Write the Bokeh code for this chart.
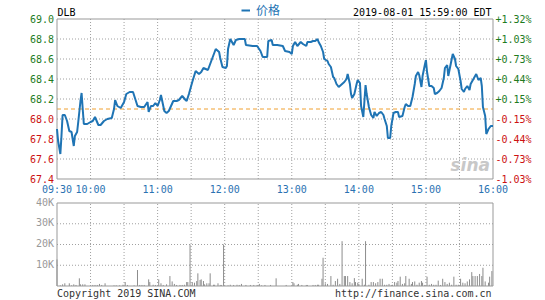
from bokeh.plotting import figure
from bokeh.models import ColumnDataSource, Range1d, Legend, LegendItem
from bokeh.core.properties import value
from bokeh.layouts import column
from bokeh.embed import file_html
from bokeh.resources import INLINE

# ---------------- data ----------------
symbol = "DLB"
timestamp = "2019-08-01 15:59:00 EDT"
series_name = "价格"
prev_close = 68.1
copyright_text = "Copyright 2019 SINA.COM"
url_text = "http://finance.sina.com.cn"
watermark = "sina"

# minutes after 09:30
price_minutes = [0, 1, 3, 4, 5, 7, 9, 11, 13, 15, 16, 18, 19, 21, 22, 23, 24, 27, 30, 32,
                 34, 37, 39, 42, 45, 49, 51, 52, 54, 57, 60, 62, 65, 68, 70, 72, 75, 78, 81, 82,
                 84, 86, 88, 90, 92, 93, 96, 98, 100, 102, 104, 107, 109, 112, 115, 116, 118, 121, 124, 127,
                 129, 131, 135, 138, 140, 142, 145, 146, 148, 151, 152, 153, 155, 158, 160, 163, 168, 169, 175, 179,
                 182, 184, 188, 189, 192, 193, 197, 202, 204, 208, 210, 211, 213, 215, 218, 220, 223, 224, 227, 229,
                 231, 233, 234, 236, 238, 239, 242, 243, 245, 247, 248, 250, 252, 254, 257, 259, 260, 262, 263, 264,
                 266, 268, 269, 271, 272, 274, 276, 277, 279, 281, 283, 284, 286, 288, 290, 292, 293, 295, 296, 298,
                 299, 301, 303, 305, 306, 309, 311, 312, 314, 316, 318, 320, 321, 323, 324, 326, 327, 329, 330, 331,
                 333, 335, 337, 338, 340, 342, 344, 346, 347, 349, 350, 352, 354, 356, 357, 359, 361, 362, 364, 365,
                 367, 369, 370, 372, 374, 375, 377, 379, 380, 381, 383, 384, 386, 388, 390]
price_values = [67.90, 67.78, 67.65, 67.83, 68.04, 68.04, 67.98, 67.88, 67.87, 67.73, 67.83, 67.87, 67.97, 68.18, 68.26, 68.10, 67.95, 67.95, 67.97, 67.98,
                68.02, 67.94, 67.94, 67.98, 68.00, 68.01, 68.10, 68.19, 68.13, 68.11, 68.17, 68.25, 68.27, 68.27, 68.20, 68.13, 68.12, 68.12, 68.17, 68.07,
                68.13, 68.13, 68.16, 68.13, 68.19, 68.24, 68.08, 68.06, 68.08, 68.13, 68.18, 68.18, 68.19, 68.23, 68.19, 68.18, 68.25, 68.37, 68.48, 68.45,
                68.47, 68.51, 68.49, 68.58, 68.64, 68.70, 68.67, 68.61, 68.52, 68.51, 68.53, 68.70, 68.80, 68.74, 68.79, 68.80, 68.80, 68.74, 68.73, 68.73,
                68.68, 68.62, 68.62, 68.78, 68.79, 68.74, 68.74, 68.73, 68.68, 68.67, 68.65, 68.73, 68.77, 68.73, 68.77, 68.75, 68.73, 68.77, 68.77, 68.78,
                68.78, 68.80, 68.77, 68.73, 68.67, 68.60, 68.58, 68.55, 68.52, 68.42, 68.41, 68.35, 68.32, 68.34, 68.37, 68.40, 68.45, 68.35, 68.25, 68.21,
                68.25, 68.35, 68.39, 68.36, 68.13, 68.02, 68.34, 68.25, 68.12, 68.04, 68.01, 68.07, 68.03, 68.06, 68.07, 68.04, 68.00, 67.93, 67.81, 67.81,
                67.93, 68.06, 68.07, 68.07, 68.02, 68.03, 68.12, 68.15, 68.13, 68.13, 68.22, 68.35, 68.43, 68.47, 68.44, 68.32, 68.43, 68.54, 68.59, 68.47,
                68.33, 68.33, 68.31, 68.25, 68.26, 68.28, 68.31, 68.41, 68.51, 68.54, 68.43, 68.54, 68.65, 68.60, 68.53, 68.50, 68.38, 68.30, 68.27, 68.30,
                68.33, 68.29, 68.35, 68.39, 68.43, 68.45, 68.39, 68.41, 68.33, 68.12, 68.03, 67.85, 67.90, 67.93, 67.93]

vol_minutes = [0, 3, 5, 7, 11, 13, 15, 17, 20, 21, 23, 25, 32, 34, 36, 38, 40, 43, 51, 53,
               56, 59, 61, 63, 69, 72, 74, 76, 78, 82, 83, 86, 88, 91, 93, 95, 98, 101, 103, 105,
               107, 110, 112, 114, 116, 117, 119, 121, 123, 125, 126, 128, 129, 131, 132, 134, 136, 137, 140, 141,
               144, 146, 147, 149, 153, 155, 158, 161, 163, 165, 169, 173, 176, 179, 181, 183, 186, 191, 196, 205,
               211, 212, 215, 216, 219, 223, 224, 229, 231, 233, 234, 237, 238, 240, 242, 245, 247, 249, 251, 253,
               255, 257, 258, 260, 262, 264, 266, 267, 269, 270, 273, 275, 276, 279, 281, 283, 285, 287, 289, 291,
               293, 295, 297, 299, 300, 302, 304, 305, 307, 309, 311, 312, 315, 317, 318, 320, 322, 324, 326, 327,
               329, 331, 333, 335, 337, 339, 341, 343, 345, 347, 349, 351, 353, 355, 357, 359, 361, 363, 365, 367,
               369, 371, 372, 374, 376, 378, 380, 381, 383, 386, 387, 389]
vol_values = [12800, 300, 800, 1300, 1300, 300, 800, 500, 3700, 800, 800, 800, 500, 500, 500, 1000, 500, 1300, 300, 300,
              300, 600, 1900, 500, 300, 7700, 500, 500, 500, 3200, 1900, 600, 500, 3200, 1300, 500, 800, 4800, 2200, 1000,
              500, 500, 500, 600, 1900, 1900, 20000, 1900, 1600, 2400, 6100, 2900, 3200, 2400, 800, 1300, 1300, 6100, 600, 600,
              1300, 500, 500, 20000, 300, 600, 500, 600, 500, 1000, 500, 500, 500, 500, 1000, 300, 500, 500, 3700, 500,
              1900, 1300, 600, 1000, 500, 500, 500, 500, 500, 600, 600, 3500, 13600, 1300, 1000, 4800, 600, 2400, 3500, 1000,
              21600, 4800, 4800, 4800, 1900, 1300, 3800, 1900, 1600, 1000, 3500, 600, 21600, 600, 1900, 1900, 1300, 1900, 3500, 3500,
              600, 600, 1000, 500, 600, 1900, 1600, 2400, 4500, 1000, 1300, 4800, 3500, 1000, 1900, 2200, 600, 1600, 2400, 1600,
              500, 4500, 600, 1000, 600, 600, 2600, 500, 3500, 1900, 1000, 1600, 600, 4500, 600, 600, 3500, 1600, 1300, 2200,
              3200, 6700, 4800, 4800, 4800, 5800, 4800, 8800, 2200, 1600, 4500, 7200]

session_start, session_end = 0, 390
time_ticks = [0, 30, 90, 150, 210, 270, 330, 390]
time_labels = ["09:30", "10:00", "11:00", "12:00", "13:00", "14:00", "15:00", "16:00"]
time_grid = [30, 60, 90, 120, 150, 180, 210, 240, 270, 300, 330, 360]

price_min, price_max = 67.4, 69.0
price_ticks = [67.4, 67.6, 67.8, 68.0, 68.2, 68.4, 68.6, 68.8, 69.0]
price_labels = ["67.4", "67.6", "67.8", "68.0", "68.2", "68.4", "68.6", "68.8", "69.0"]
pct_labels = ["-1.03%", "-0.73%", "-0.44%", "-0.15%", "+0.15%", "+0.44%", "+0.73%", "+1.03%", "+1.32%"]

vol_max = 40000
vol_ticks = [10000, 20000, 30000, 40000]
vol_labels = ["10K", "20K", "30K", "40K"]

# ---------------- layout (pixels) ----------------
W = 545
H1, H2 = 195, 105
FX0, FX1 = 56.5, 492.5          # plot area left/right edge (px)
P_TOP, P_BOT = 18.5, 178.5      # price plot area top/bottom (px, in top figure)
V_TOP, V_BOT = 7.5, 90.5        # volume plot area top/bottom (px, in bottom figure)

MONO = value("DejaVu Sans Mono")
LINE_BLUE = "#1f74b4"
TIME_BLUE = "#2a72b2"
UP = "#1e7b1e"
DOWN = "#cc1111"
GRID = "#a0a0a0"
FRAME = "#999999"


def x_range_for():
    ppm = (FX1 - FX0) / (session_end - session_start)
    return Range1d(session_start - FX0 / ppm, session_end + (W - FX1) / ppm)


def y_range_for(lo, hi, top_px, bot_px, h):
    upp = (hi - lo) / (bot_px - top_px)
    return Range1d(lo - (h - bot_px) * upp, hi + top_px * upp)


def base_fig(h, yr):
    f = figure(width=W, height=h, x_range=x_range_for(), y_range=yr,
               output_backend="svg", toolbar_location=None,
               x_axis_location=None, y_axis_location=None,
               min_border_left=0, min_border_right=0, min_border_top=0, min_border_bottom=0)
    f.outline_line_color = None
    f.grid.visible = False
    f.background_fill_color = "white"
    f.border_fill_color = "white"
    return f


# ---------------- price chart ----------------
p = base_fig(H1, y_range_for(price_min, price_max, P_TOP, P_BOT, H1))

inner_ticks = price_ticks[1:-1]
p.segment(x0=time_grid, x1=time_grid, y0=[price_min] * len(time_grid), y1=[price_max] * len(time_grid),
          line_color=GRID, line_dash="1 2", line_width=1)
p.segment(x0=[session_start] * len(inner_ticks), x1=[session_end] * len(inner_ticks),
          y0=inner_ticks, y1=inner_ticks, line_color=GRID, line_dash="1 2", line_width=1)
p.segment(x0=[session_start], x1=[session_end], y0=[prev_close], y1=[prev_close],
          line_color="#f0a030", line_dash="4 3", line_width=1)
p.quad(left=[session_start], right=[session_end], bottom=[price_min], top=[price_max],
       fill_color=None, line_color=FRAME, line_width=1)

price_src = ColumnDataSource(dict(t=price_minutes, v=price_values))
price_line = p.line("t", "v", source=price_src, line_color=LINE_BLUE, line_width=2)

colors = [UP if v > prev_close else DOWN for v in price_ticks]
lab_src = ColumnDataSource(dict(y=price_ticks, lt=price_labels, rt=pct_labels, c=colors,
                                xl=[session_start] * len(price_ticks),
                                xr=[session_end] * len(price_ticks)))
p.text(x="xl", y="y", text="lt", source=lab_src, x_offset=-3, text_align="right",
       text_baseline="middle", text_color="c", text_font=MONO, text_font_size="10px")
p.text(x="xr", y="y", text="rt", source=lab_src, x_offset=2.5, text_align="left",
       text_baseline="middle", text_color="c", text_font=MONO, text_font_size="10px")

p.text(x=time_ticks, y=[price_min] * len(time_ticks), text=time_labels, y_offset=10,
       text_align="center", text_baseline="middle", text_color=TIME_BLUE,
       text_font=MONO, text_font_size="10px")

p.text(x=[session_start], y=[price_max], text=[symbol], x_offset=0.5, y_offset=-7,
       text_align="left", text_baseline="middle", text_color="black",
       text_font=MONO, text_font_size="10px")
p.text(x=[session_end], y=[price_max], text=[timestamp], x_offset=-1.5, y_offset=-7,
       text_align="right", text_baseline="middle", text_color="black",
       text_font=MONO, text_font_size="10px")
p.text(x=[session_end], y=[price_min], text=[watermark], x_offset=-3, y_offset=-4,
       text_align="right", text_baseline="bottom", text_color="#c8c8c8",
       text_font=value("DejaVu Sans"), text_font_style="bold italic", text_font_size="17px")

legend = Legend(items=[LegendItem(label=series_name, renderers=[price_line])],
                location=(241, 177), orientation="horizontal",
                glyph_width=9, glyph_height=12, label_standoff=6, padding=0, margin=0,
                spacing=0, border_line_color=None, background_fill_alpha=0,
                label_text_font="Noto Sans CJK SC", label_text_font_size="12px",
                label_text_color=LINE_BLUE, label_height=12)
p.add_layout(legend)

# ---------------- volume chart ----------------
p2 = base_fig(H2, y_range_for(0, vol_max, V_TOP, V_BOT, H2))
inner_v = vol_ticks[:-1]
p2.segment(x0=time_grid, x1=time_grid, y0=[0] * len(time_grid), y1=[vol_max] * len(time_grid),
           line_color=GRID, line_dash="1 2", line_width=1)
p2.segment(x0=[session_start] * len(inner_v), x1=[session_end] * len(inner_v),
           y0=inner_v, y1=inner_v, line_color=GRID, line_dash="1 2", line_width=1)

vol_src = ColumnDataSource(dict(t=vol_minutes, v=vol_values, z=[0] * len(vol_values)))
p2.segment(x0="t", y0="z", x1="t", y1="v", source=vol_src, line_color="#8c8c8c", line_width=1)

p2.quad(left=[session_start], right=[session_end], bottom=[0], top=[vol_max],
        fill_color=None, line_color=FRAME, line_width=1)

p2.text(x=[session_start] * len(vol_ticks), y=vol_ticks, text=vol_labels, x_offset=-3, y_offset=-1,
        text_align="right", text_baseline="middle", text_color="#999999",
        text_font=MONO, text_font_size="10px")
p2.text(x=[session_start], y=[0], text=[copyright_text], x_offset=0, y_offset=7,
        text_align="left", text_baseline="middle", text_color="#333333",
        text_font=MONO, text_font_size="10px")
p2.text(x=[session_end], y=[0], text=[url_text], x_offset=-1.5, y_offset=7,
        text_align="right", text_baseline="middle", text_color="#333333",
        text_font=MONO, text_font_size="10px")

layout = column(p, p2, spacing=0)
open("out.html", "w").write(file_html(layout, INLINE))
